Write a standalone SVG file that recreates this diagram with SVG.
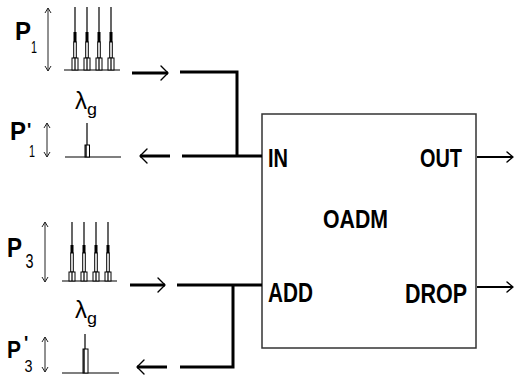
<svg xmlns="http://www.w3.org/2000/svg" width="516" height="376" viewBox="0 0 516 376">
<defs>
<style>
.t{font-family:"Liberation Sans",Arial,sans-serif;fill:#000;}
.b{font-weight:bold;}
.thick{stroke:#000;stroke-width:3;fill:none;}
.thin{stroke:#000;stroke-width:1.2;fill:none;}
.head{stroke:#000;stroke-width:1.4;fill:none;stroke-linecap:round;stroke-linejoin:round;}
.dbl{stroke:#222;stroke-width:1;fill:none;}
.pk{stroke:#000;stroke-width:1;fill:#fff;}
</style>
</defs>
<rect width="516" height="376" fill="#fff"/>

<g id="oadm">
<rect x="262" y="114" width="214" height="234" fill="#fff" stroke="#333" stroke-width="1.5"/>
<text class="t b" x="268" y="167" font-size="26" textLength="20" lengthAdjust="spacingAndGlyphs">IN</text>
<text class="t b" x="420" y="167" font-size="26" textLength="42" lengthAdjust="spacingAndGlyphs">OUT</text>
<text class="t b" x="323" y="228" font-size="26" textLength="65" lengthAdjust="spacingAndGlyphs">OADM</text>
<text class="t b" x="268" y="302" font-size="28" textLength="45" lengthAdjust="spacingAndGlyphs">ADD</text>
<text class="t b" x="405" y="303" font-size="28" textLength="62" lengthAdjust="spacingAndGlyphs">DROP</text>
</g>

<g id="p1">
<text class="t b" x="15" y="40" font-size="25" textLength="16" lengthAdjust="spacingAndGlyphs">P</text>
<text class="t" x="31" y="53" font-size="17" textLength="6" lengthAdjust="spacingAndGlyphs">1</text>
<line class="dbl" x1="48" y1="8" x2="48" y2="71"/>
<polyline class="dbl" points="45,13 48,8 51,13"/>
<polyline class="dbl" points="45,66 48,71 51,66"/>
<line class="thin" x1="64" y1="70" x2="120" y2="70" stroke-width="1.5"/>
<g>
<line class="thin" x1="75" y1="7" x2="75" y2="58"/><rect x="73.5" y="32" width="3" height="10" fill="#000"/><rect class="pk" x="73.7" y="42" width="2.6" height="16"/><rect class="pk" x="72" y="58" width="6" height="12"/><line class="thin" x1="75" y1="58" x2="75" y2="70"/>
<line class="thin" x1="87" y1="7" x2="87" y2="58"/><rect x="85.5" y="32" width="3" height="10" fill="#000"/><rect class="pk" x="85.7" y="42" width="2.6" height="16"/><rect class="pk" x="84" y="58" width="6" height="12"/><line class="thin" x1="87" y1="58" x2="87" y2="70"/>
<line class="thin" x1="99" y1="7" x2="99" y2="58"/><rect x="97.5" y="32" width="3" height="10" fill="#000"/><rect class="pk" x="97.7" y="42" width="2.6" height="16"/><rect class="pk" x="96" y="58" width="6" height="12"/><line class="thin" x1="99" y1="58" x2="99" y2="70"/>
<line class="thin" x1="111" y1="7" x2="111" y2="58"/><rect x="109.5" y="32" width="3" height="10" fill="#000"/><rect class="pk" x="109.7" y="42" width="2.6" height="16"/><rect class="pk" x="108" y="58" width="6" height="12"/><line class="thin" x1="111" y1="58" x2="111" y2="70"/>
</g>
</g>

<g id="p1prime">
<text class="t b" x="10" y="140" font-size="25" textLength="16" lengthAdjust="spacingAndGlyphs">P</text>
<text class="t b" x="27" y="136" font-size="18">'</text>
<text class="t" x="29" y="157" font-size="17" textLength="6" lengthAdjust="spacingAndGlyphs">1</text>
<line class="dbl" x1="47" y1="123" x2="47" y2="157"/>
<polyline class="dbl" points="44,128 47,123 50,128"/>
<polyline class="dbl" points="44,152 47,157 50,152"/>
<text class="t" x="75" y="109" font-size="24" textLength="12" lengthAdjust="spacingAndGlyphs">λ</text>
<text class="t" x="87" y="115" font-size="17" textLength="10" lengthAdjust="spacingAndGlyphs">g</text>
<line class="thin" x1="65" y1="157" x2="121" y2="157" stroke-width="1.5"/>
<line class="thin" x1="87" y1="123" x2="87" y2="145"/>
<rect class="pk" x="85" y="145" width="4.5" height="12"/>
<line x1="86" y1="145" x2="86" y2="157" stroke="#000" stroke-width="1.4"/>
</g>

<g id="p3">
<text class="t b" x="7" y="257" font-size="27" textLength="15" lengthAdjust="spacingAndGlyphs">P</text>
<text class="t" x="25.5" y="268" font-size="21" textLength="8" lengthAdjust="spacingAndGlyphs">3</text>
<line class="dbl" x1="45" y1="222" x2="45" y2="282" stroke="#777"/>
<polyline class="dbl" points="42,227 45,222 48,227" stroke="#777"/>
<polyline class="dbl" points="42,277 45,282 48,277" stroke="#777"/>
<line class="thin" x1="62" y1="281" x2="117" y2="281" stroke-width="1.5"/>
<g>
<line class="thin" x1="72" y1="222" x2="72" y2="272"/><rect x="70.5" y="245" width="3" height="8" fill="#000"/><rect class="pk" x="70.7" y="253" width="2.6" height="19"/><rect class="pk" x="69" y="272" width="6" height="9"/><line class="thin" x1="72" y1="272" x2="72" y2="281"/>
<line class="thin" x1="84" y1="222" x2="84" y2="272"/><rect x="82.5" y="245" width="3" height="8" fill="#000"/><rect class="pk" x="82.7" y="253" width="2.6" height="19"/><rect class="pk" x="81" y="272" width="6" height="9"/><line class="thin" x1="84" y1="272" x2="84" y2="281"/>
<line class="thin" x1="96" y1="222" x2="96" y2="272"/><rect x="94.5" y="245" width="3" height="8" fill="#000"/><rect class="pk" x="94.7" y="253" width="2.6" height="19"/><rect class="pk" x="93" y="272" width="6" height="9"/><line class="thin" x1="96" y1="272" x2="96" y2="281"/>
<line class="thin" x1="108" y1="222" x2="108" y2="272"/><rect x="106.5" y="245" width="3" height="8" fill="#000"/><rect class="pk" x="106.7" y="253" width="2.6" height="19"/><rect class="pk" x="105" y="272" width="6" height="9"/><line class="thin" x1="108" y1="272" x2="108" y2="281"/>
</g>
</g>

<g id="p3prime">
<text class="t b" x="7" y="358" font-size="24" textLength="14" lengthAdjust="spacingAndGlyphs">P</text>
<text class="t b" x="24" y="349" font-size="18">'</text>
<text class="t" x="24.5" y="372" font-size="17" textLength="8" lengthAdjust="spacingAndGlyphs">3</text>
<line class="dbl" x1="45" y1="337" x2="45" y2="372"/>
<polyline class="dbl" points="42,342 45,337 48,342"/>
<polyline class="dbl" points="42,367 45,372 48,367"/>
<text class="t" x="75" y="318" font-size="24" textLength="12" lengthAdjust="spacingAndGlyphs">λ</text>
<text class="t" x="87" y="324" font-size="17" textLength="10" lengthAdjust="spacingAndGlyphs">g</text>
<line class="thin" x1="62" y1="373" x2="119" y2="373" stroke-width="1.5"/>
<line class="thin" x1="85" y1="334" x2="85" y2="349"/>
<rect class="pk" x="83" y="349" width="5" height="24"/>
<line x1="84" y1="349" x2="84" y2="373" stroke="#000" stroke-width="1.4"/>
</g>

<g id="connectors">
<line class="thick" x1="132" y1="73" x2="168" y2="73"/>
<polyline class="head" points="161,66 168,73 161,80"/>
<polyline class="thick" points="180,72 237,72 237,156"/>
<line class="thick" x1="182" y1="156" x2="262" y2="156"/>
<line class="thick" x1="140" y1="156" x2="170" y2="156"/>
<polyline class="head" points="147,149 140,156 147,163"/>

<line class="thick" x1="130" y1="285" x2="165" y2="285"/>
<polyline class="head" points="158,278 165,285 158,292"/>
<line class="thick" x1="177" y1="285" x2="262" y2="285"/>
<polyline class="thick" points="233,285 233,367 180,367"/>
<line class="thick" x1="137" y1="367" x2="167" y2="367"/>
<polyline class="head" points="144,360 137,367 144,374"/>

<line x1="477" y1="157" x2="513" y2="157" stroke="#000" stroke-width="2"/>
<polyline class="head" points="507,152 513,157 507,162"/>
<line x1="477" y1="287" x2="513" y2="287" stroke="#000" stroke-width="2"/>
<polyline class="head" points="507,282 513,287 507,292"/>
</g>
</svg>
